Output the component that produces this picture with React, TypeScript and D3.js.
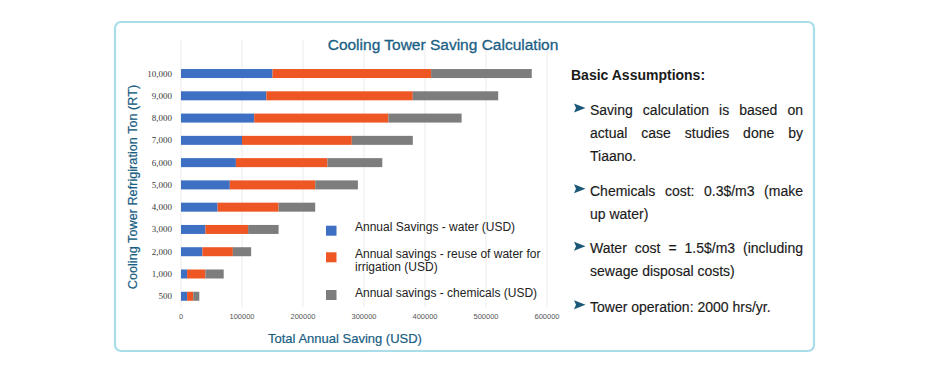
import React, { useEffect, useRef } from "react";
import * as d3 from "d3";

const categories = ["500", "1,000", "2,000", "3,000", "4,000", "5,000", "6,000", "7,000", "8,000", "9,000", "10,000"];
const waterSavings = [10000, 10000, 35000, 40000, 60000, 80000, 90000, 100000, 120000, 140000, 150000];
const reuseSavings = [10000, 30000, 50000, 70000, 100000, 140000, 150000, 180000, 220000, 240000, 260000];
const chemicalSavings = [10000, 30000, 30000, 50000, 60000, 70000, 90000, 100000, 120000, 140000, 165000];
const seriesNames = ["Annual Savings - water (USD)", "Annual savings - reuse of water for|irrigation (USD)", "Annual savings - chemicals (USD)"];
const xTicks = [0, 100000, 200000, 300000, 400000, 500000, 600000];
const assumptions = [
  ["Saving calculation is based on", "actual case studies done by", "Tiaano."],
  ["Chemicals cost: 0.3$/m3 (make", "up water)"],
  ["Water cost = 1.5$/m3 (including", "sewage disposal costs)"],
  ["Tower operation: 2000 hrs/yr."],
];

const COLORS = ["#3d6fc2", "#ee5624", "#7d7d7d"];
const TEAL = "#1a5e84";
const SANS = "'Liberation Sans', Arial, sans-serif";

export default function App() {
  const ref = useRef<SVGSVGElement | null>(null);

  useEffect(() => {
    const svg = d3.select(ref.current);
    svg.selectAll("*").remove();

    // frame
    svg.append("rect").attr("x", 115).attr("y", 22).attr("width", 699).attr("height", 329)
      .attr("rx", 6).attr("fill", "#fff").attr("stroke", "#a9dde9").attr("stroke-width", 2.2);

    const x = d3.scaleLinear().domain([0, 600000]).range([181, 547]);
    const y = d3.scaleBand<string>().domain([...categories].reverse()).range([62.4, 307.4]).paddingInner(0.6).paddingOuter(0.3);

    // grid
    svg.append("g").selectAll("line").data(xTicks).join("line")
      .attr("x1", (d) => x(d)).attr("x2", (d) => x(d)).attr("y1", 40).attr("y2", 307)
      .attr("stroke", "#ebebeb").attr("stroke-width", 1);

    // stacked bars
    const rows = categories.map((c, i) => ({ cat: c, water: waterSavings[i], reuse: reuseSavings[i], chem: chemicalSavings[i] }));
    const stack = d3.stack<any>().keys(["water", "reuse", "chem"])(rows);
    const bh = 9;
    stack.forEach((layer, li) => {
      svg.append("g").selectAll("rect").data(layer).join("rect")
        .attr("x", (d) => x(d[0]))
        .attr("width", (d) => x(d[1]) - x(d[0]))
        .attr("y", (d) => (y(d.data.cat) as number) + y.bandwidth() / 2 - bh / 2)
        .attr("height", bh)
        .attr("fill", COLORS[li]);
    });

    // y tick labels
    svg.append("g").selectAll("text").data(categories).join("text")
      .attr("x", 172).attr("y", (d) => (y(d) as number) + y.bandwidth() / 2 + 3)
      .attr("text-anchor", "end").attr("font-family", "'Liberation Serif', 'DejaVu Serif', serif")
      .attr("font-size", 9).attr("fill", "#3a3a3a").text((d) => d);

    // x tick labels
    svg.append("g").selectAll("text").data(xTicks).join("text")
      .attr("x", (d) => x(d)).attr("y", 319)
      .attr("text-anchor", "middle").attr("font-family", SANS)
      .attr("font-size", 7.5).attr("fill", "#555").text((d) => String(d));

    // titles
    svg.append("text").attr("x", 443).attr("y", 49.5).attr("text-anchor", "middle")
      .attr("font-family", SANS).attr("font-size", 15.5).attr("fill", TEAL)
      .attr("stroke", TEAL).attr("stroke-width", 0.3).text("Cooling Tower Saving Calculation");
    svg.append("text").attr("x", 345).attr("y", 342.5).attr("text-anchor", "middle")
      .attr("font-family", SANS).attr("font-size", 13).attr("fill", TEAL)
      .attr("stroke", TEAL).attr("stroke-width", 0.2).text("Total Annual Saving (USD)");
    svg.append("text").attr("transform", "translate(136.5,187) rotate(-90)").attr("text-anchor", "middle")
      .attr("font-family", SANS).attr("font-size", 12.7).attr("fill", TEAL)
      .attr("stroke", TEAL).attr("stroke-width", 0.2).text("Cooling Tower Refrigiration Ton (RT)");

    // legend
    const legY = [230.7, 257.3, 295];
    seriesNames.forEach((name, i) => {
      svg.append("rect").attr("x", 326).attr("y", legY[i] - 5).attr("width", 10.5).attr("height", 10).attr("fill", COLORS[i]);
      const lines = name.split("|");
      const firstCenter = i === 1 ? 253.3 : i === 0 ? 227 : 292.7;
      lines.forEach((ln, k) => {
        svg.append("text").attr("x", 355).attr("y", firstCenter + 4.2 + k * 13.4)
          .attr("font-family", SANS).attr("font-size", 12).attr("fill", "#222").text(ln);
      });
    });

    // assumptions
    svg.append("text").attr("x", 571).attr("y", 80).attr("font-family", SANS).attr("font-weight", "bold")
      .attr("font-size", 14).attr("fill", "#1a1a1a").text("Basic Assumptions:");

    const lineCenters = [[110, 132.7, 156], [190.7, 214], [248.3, 270.7], [306.7]];
    const left = 590, right = 803;
    assumptions.forEach((para, pi) => {
      const cy0 = lineCenters[pi][0];
      svg.append("path")
        .attr("d", `M574,${cy0 - 6.5} L585.5,${cy0 - 2} L574,${cy0 + 2.5} L576,${cy0 - 2} Z`)
        .attr("fill", "#1b5878");
      para.forEach((line, li) => {
        const baseline = lineCenters[pi][li] + 5;
        const words = line.split(" ");
        const isLast = li === para.length - 1;
        const g = svg.append("g");
        const texts = words.map((w) =>
          g.append("text").attr("y", baseline).attr("font-family", SANS).attr("font-size", 14)
            .attr("fill", "#1a1a1a").attr("stroke", "#1a1a1a").attr("stroke-width", 0.15).text(w));
        const widths = texts.map((t) => (t.node() as SVGTextElement).getComputedTextLength());
        const total = widths.reduce((a, b) => a + b, 0);
        const gap = isLast || words.length < 2 ? 3.9 : (right - left - total) / (words.length - 1);
        let cx = left;
        texts.forEach((t, k) => {
          t.attr("x", cx);
          cx += widths[k] + gap;
        });
      });
    });
  }, []);

  return (
    <svg ref={ref} width={931} height={375}
      style={{ position: "absolute", left: 0, top: 0, background: "#fff" }} />
  );
}
